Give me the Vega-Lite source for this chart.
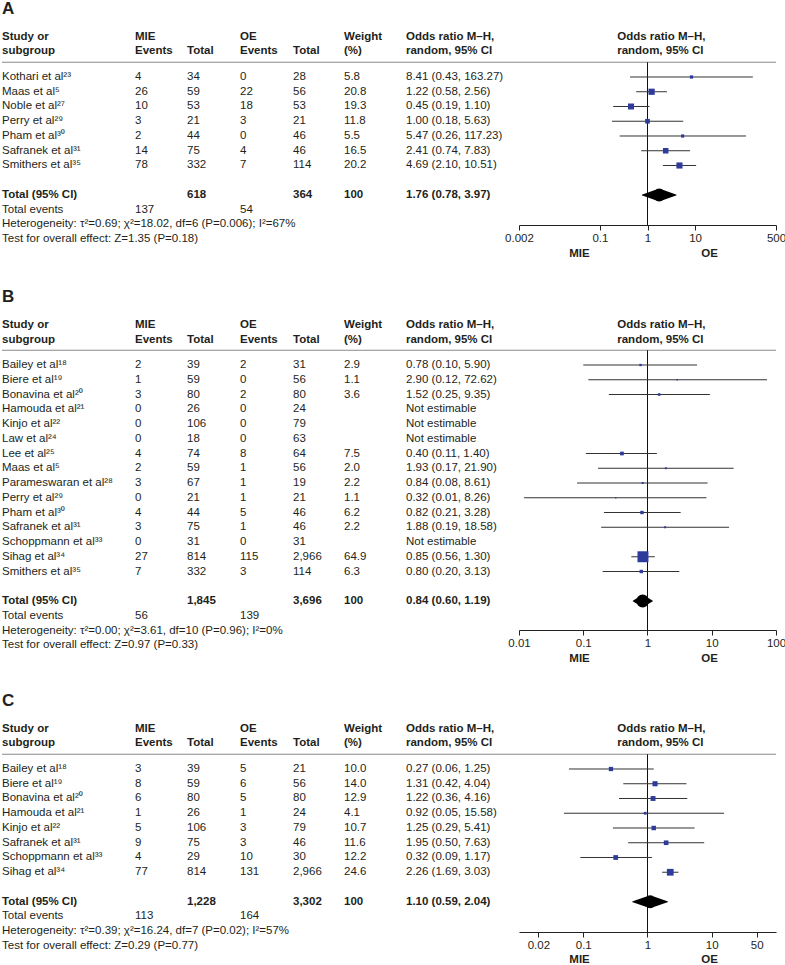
{
"$schema":"https://vega.github.io/schema/vega-lite/v6.json",
"background":"white",
"padding":{"left":1,"top":0,"right":0,"bottom":0},
"autosize":{"type":"pad"},
"config":{"view":{"stroke":null},"axis":{"grid":false},"text":{"font":"Liberation Sans, Noto Sans, DejaVu Sans","fontSize":11.5,"align":"left","baseline":"middle","color":"#231f20"}},
"datasets":{
"hdr":[
{"c":"name","r":-2,"h":"Study or"},{"c":"name","r":-1,"h":"subgroup"},
{"c":"me","r":-2,"h":"MIE"},{"c":"me","r":-1,"h":"Events"},
{"c":"mt","r":-1,"h":"Total"},
{"c":"oe","r":-2,"h":"OE"},{"c":"oe","r":-1,"h":"Events"},
{"c":"ot","r":-1,"h":"Total"},
{"c":"wt","r":-2,"h":"Weight"},{"c":"wt","r":-1,"h":"(%)"},
{"c":"ort","r":-2,"h":"Odds ratio M–H,"},{"c":"ort","r":-1,"h":"random, 95% CI"},
{"c":"plot","r":-2,"h":"Odds ratio M–H,"},{"c":"plot","r":-1,"h":"random, 95% CI"}
],
"rows":[
{"p":"A","r":1,"kind":"study","name":"Kothari et al²³","me":"4","mt":"34","oe":"0","ot":"28","wt":"5.8","w":5.8,"ort":"8.41 (0.43, 163.27)","or":8.41,"lo":0.43,"hi":163.27},
{"p":"A","r":2,"kind":"study","name":"Maas et al⁵","me":"26","mt":"59","oe":"22","ot":"56","wt":"20.8","w":20.8,"ort":"1.22 (0.58, 2.56)","or":1.22,"lo":0.58,"hi":2.56},
{"p":"A","r":3,"kind":"study","name":"Noble et al²⁷","me":"10","mt":"53","oe":"18","ot":"53","wt":"19.3","w":19.3,"ort":"0.45 (0.19, 1.10)","or":0.45,"lo":0.19,"hi":1.10},
{"p":"A","r":4,"kind":"study","name":"Perry et al²⁹","me":"3","mt":"21","oe":"3","ot":"21","wt":"11.8","w":11.8,"ort":"1.00 (0.18, 5.63)","or":1.00,"lo":0.18,"hi":5.63},
{"p":"A","r":5,"kind":"study","name":"Pham et al³⁰","me":"2","mt":"44","oe":"0","ot":"46","wt":"5.5","w":5.5,"ort":"5.47 (0.26, 117.23)","or":5.47,"lo":0.26,"hi":117.23},
{"p":"A","r":6,"kind":"study","name":"Safranek et al³¹","me":"14","mt":"75","oe":"4","ot":"46","wt":"16.5","w":16.5,"ort":"2.41 (0.74, 7.83)","or":2.41,"lo":0.74,"hi":7.83},
{"p":"A","r":7,"kind":"study","name":"Smithers et al³⁵","me":"78","mt":"332","oe":"7","ot":"114","wt":"20.2","w":20.2,"ort":"4.69 (2.10, 10.51)","or":4.69,"lo":2.10,"hi":10.51},
{"p":"A","r":9,"kind":"total","name":"Total (95% CI)","mt":"618","ot":"364","wt":"100","ort":"1.76 (0.78, 3.97)","or":1.76,"lo":0.78,"hi":3.97},
{"p":"A","r":10,"kind":"events","name":"Total events","me":"137","oe":"54"},
{"p":"A","r":11,"kind":"note","name":"Heterogeneity: τ²=0.69; χ²=18.02, df=6 (P=0.006); I²=67%"},
{"p":"A","r":12,"kind":"note","name":"Test for overall effect: Z=1.35 (P=0.18)"},
{"p":"B","r":1,"kind":"study","name":"Bailey et al¹⁸","me":"2","mt":"39","oe":"2","ot":"31","wt":"2.9","w":2.9,"ort":"0.78 (0.10, 5.90)","or":0.78,"lo":0.10,"hi":5.90},
{"p":"B","r":2,"kind":"study","name":"Biere et al¹⁹","me":"1","mt":"59","oe":"0","ot":"56","wt":"1.1","w":1.1,"ort":"2.90 (0.12, 72.62)","or":2.90,"lo":0.12,"hi":72.62},
{"p":"B","r":3,"kind":"study","name":"Bonavina et al²⁰","me":"3","mt":"80","oe":"2","ot":"80","wt":"3.6","w":3.6,"ort":"1.52 (0.25, 9.35)","or":1.52,"lo":0.25,"hi":9.35},
{"p":"B","r":4,"kind":"study","name":"Hamouda et al²¹","me":"0","mt":"26","oe":"0","ot":"24","ort":"Not estimable"},
{"p":"B","r":5,"kind":"study","name":"Kinjo et al²²","me":"0","mt":"106","oe":"0","ot":"79","ort":"Not estimable"},
{"p":"B","r":6,"kind":"study","name":"Law et al²⁴","me":"0","mt":"18","oe":"0","ot":"63","ort":"Not estimable"},
{"p":"B","r":7,"kind":"study","name":"Lee et al²⁵","me":"4","mt":"74","oe":"8","ot":"64","wt":"7.5","w":7.5,"ort":"0.40 (0.11, 1.40)","or":0.40,"lo":0.11,"hi":1.40},
{"p":"B","r":8,"kind":"study","name":"Maas et al⁵","me":"2","mt":"59","oe":"1","ot":"56","wt":"2.0","w":2.0,"ort":"1.93 (0.17, 21.90)","or":1.93,"lo":0.17,"hi":21.90},
{"p":"B","r":9,"kind":"study","name":"Parameswaran et al²⁸","me":"3","mt":"67","oe":"1","ot":"19","wt":"2.2","w":2.2,"ort":"0.84 (0.08, 8.61)","or":0.84,"lo":0.08,"hi":8.61},
{"p":"B","r":10,"kind":"study","name":"Perry et al²⁹","me":"0","mt":"21","oe":"1","ot":"21","wt":"1.1","w":1.1,"ort":"0.32 (0.01, 8.26)","or":0.32,"lo":0.012,"hi":8.26},
{"p":"B","r":11,"kind":"study","name":"Pham et al³⁰","me":"4","mt":"44","oe":"5","ot":"46","wt":"6.2","w":6.2,"ort":"0.82 (0.21, 3.28)","or":0.82,"lo":0.21,"hi":3.28},
{"p":"B","r":12,"kind":"study","name":"Safranek et al³¹","me":"3","mt":"75","oe":"1","ot":"46","wt":"2.2","w":2.2,"ort":"1.88 (0.19, 18.58)","or":1.88,"lo":0.19,"hi":18.58},
{"p":"B","r":13,"kind":"study","name":"Schoppmann et al³³","me":"0","mt":"31","oe":"0","ot":"31","ort":"Not estimable"},
{"p":"B","r":14,"kind":"study","name":"Sihag et al³⁴","me":"27","mt":"814","oe":"115","ot":"2,966","wt":"64.9","w":64.9,"ort":"0.85 (0.56, 1.30)","or":0.85,"lo":0.56,"hi":1.30},
{"p":"B","r":15,"kind":"study","name":"Smithers et al³⁵","me":"7","mt":"332","oe":"3","ot":"114","wt":"6.3","w":6.3,"ort":"0.80 (0.20, 3.13)","or":0.80,"lo":0.20,"hi":3.13},
{"p":"B","r":17,"kind":"total","name":"Total (95% CI)","mt":"1,845","ot":"3,696","wt":"100","ort":"0.84 (0.60, 1.19)","or":0.84,"lo":0.60,"hi":1.19},
{"p":"B","r":18,"kind":"events","name":"Total events","me":"56","oe":"139"},
{"p":"B","r":19,"kind":"note","name":"Heterogeneity: τ²=0.00; χ²=3.61, df=10 (P=0.96); I²=0%"},
{"p":"B","r":20,"kind":"note","name":"Test for overall effect: Z=0.97 (P=0.33)"},
{"p":"C","r":1,"kind":"study","name":"Bailey et al¹⁸","me":"3","mt":"39","oe":"5","ot":"21","wt":"10.0","w":10.0,"ort":"0.27 (0.06, 1.25)","or":0.27,"lo":0.06,"hi":1.25},
{"p":"C","r":2,"kind":"study","name":"Biere et al¹⁹","me":"8","mt":"59","oe":"6","ot":"56","wt":"14.0","w":14.0,"ort":"1.31 (0.42, 4.04)","or":1.31,"lo":0.42,"hi":4.04},
{"p":"C","r":3,"kind":"study","name":"Bonavina et al²⁰","me":"6","mt":"80","oe":"5","ot":"80","wt":"12.9","w":12.9,"ort":"1.22 (0.36, 4.16)","or":1.22,"lo":0.36,"hi":4.16},
{"p":"C","r":4,"kind":"study","name":"Hamouda et al²¹","me":"1","mt":"26","oe":"1","ot":"24","wt":"4.1","w":4.1,"ort":"0.92 (0.05, 15.58)","or":0.92,"lo":0.05,"hi":15.58},
{"p":"C","r":5,"kind":"study","name":"Kinjo et al²²","me":"5","mt":"106","oe":"3","ot":"79","wt":"10.7","w":10.7,"ort":"1.25 (0.29, 5.41)","or":1.25,"lo":0.29,"hi":5.41},
{"p":"C","r":6,"kind":"study","name":"Safranek et al³¹","me":"9","mt":"75","oe":"3","ot":"46","wt":"11.6","w":11.6,"ort":"1.95 (0.50, 7.63)","or":1.95,"lo":0.50,"hi":7.63},
{"p":"C","r":7,"kind":"study","name":"Schoppmann et al³³","me":"4","mt":"29","oe":"10","ot":"30","wt":"12.2","w":12.2,"ort":"0.32 (0.09, 1.17)","or":0.32,"lo":0.09,"hi":1.17},
{"p":"C","r":8,"kind":"study","name":"Sihag et al³⁴","me":"77","mt":"814","oe":"131","ot":"2,966","wt":"24.6","w":24.6,"ort":"2.26 (1.69, 3.03)","or":2.26,"lo":1.69,"hi":3.03},
{"p":"C","r":10,"kind":"total","name":"Total (95% CI)","mt":"1,228","ot":"3,302","wt":"100","ort":"1.10 (0.59, 2.04)","or":1.10,"lo":0.59,"hi":2.04},
{"p":"C","r":11,"kind":"events","name":"Total events","me":"113","oe":"164"},
{"p":"C","r":12,"kind":"note","name":"Heterogeneity: τ²=0.39; χ²=16.24, df=7 (P=0.02); I²=57%"},
{"p":"C","r":13,"kind":"note","name":"Test for overall effect: Z=0.29 (P=0.77)"}
]
},
"spacing":0,
"vconcat":[
{"spacing":0,"bounds":"flush","hconcat":[
{"width":133,"height":288,"layer":[
{"data":{"values":[{"t":"A"}]},"mark":{"type":"text","fontSize":17,"fontWeight":"bold"},"encoding":{"x":{"datum":0,"type":"quantitative","scale":{"domain":[0,1]},"axis":null},"y":{"datum":-3.6,"type":"quantitative","scale":{"domain":[-4.22,15.305],"reverse":true,"nice":false,"zero":false},"axis":null},"text":{"field":"t"}}},
{"data":{"name":"rows"},"transform":[{"filter":"datum.p=='A' && datum.kind!='total' && isValid(datum.name)"}],"mark":"text","encoding":{"x":{"datum":0,"type":"quantitative","scale":{"domain":[0,1]},"axis":null},"y":{"field":"r","type":"quantitative","scale":{"domain":[-4.22,15.305],"reverse":true,"nice":false,"zero":false},"axis":null},"text":{"field":"name"}}},
{"data":{"name":"rows"},"transform":[{"filter":"datum.p=='A' && datum.kind=='total' && isValid(datum.name)"}],"mark":{"type":"text","fontWeight":"bold"},"encoding":{"x":{"datum":0,"type":"quantitative","scale":{"domain":[0,1]},"axis":null},"y":{"field":"r","type":"quantitative","scale":{"domain":[-4.22,15.305],"reverse":true,"nice":false,"zero":false},"axis":null},"text":{"field":"name"}}},
{"data":{"name":"hdr"},"transform":[{"filter":"datum.c=='name'"}],"mark":{"type":"text","fontWeight":"bold","dy":4},"encoding":{"x":{"datum":0,"type":"quantitative","scale":{"domain":[0,1]},"axis":null},"y":{"field":"r","type":"quantitative","scale":{"domain":[-4.22,15.305],"reverse":true,"nice":false,"zero":false},"axis":null},"text":{"field":"h"}}},
{"data":{"values":[{}]},"mark":{"type":"rule","color":"#8a8a8a"},"encoding":{"y":{"datum":0,"type":"quantitative"}}}
]},
{"width":52,"height":288,"layer":[
{"data":{"name":"rows"},"transform":[{"filter":"datum.p=='A' && isValid(datum.me)"}],"mark":"text","encoding":{"x":{"datum":0,"type":"quantitative","scale":{"domain":[0,1]},"axis":null},"y":{"field":"r","type":"quantitative","scale":{"domain":[-4.22,15.305],"reverse":true,"nice":false,"zero":false},"axis":null},"text":{"field":"me"}}},
{"data":{"name":"hdr"},"transform":[{"filter":"datum.c=='me'"}],"mark":{"type":"text","fontWeight":"bold","dy":4},"encoding":{"x":{"datum":0,"type":"quantitative","scale":{"domain":[0,1]},"axis":null},"y":{"field":"r","type":"quantitative","scale":{"domain":[-4.22,15.305],"reverse":true,"nice":false,"zero":false},"axis":null},"text":{"field":"h"}}},
{"data":{"values":[{}]},"mark":{"type":"rule","color":"#8a8a8a"},"encoding":{"y":{"datum":0,"type":"quantitative"}}}
]},
{"width":53,"height":288,"layer":[
{"data":{"name":"rows"},"transform":[{"filter":"datum.p=='A' && datum.kind!='total' && isValid(datum.mt)"}],"mark":"text","encoding":{"x":{"datum":0,"type":"quantitative","scale":{"domain":[0,1]},"axis":null},"y":{"field":"r","type":"quantitative","scale":{"domain":[-4.22,15.305],"reverse":true,"nice":false,"zero":false},"axis":null},"text":{"field":"mt"}}},
{"data":{"name":"rows"},"transform":[{"filter":"datum.p=='A' && datum.kind=='total' && isValid(datum.mt)"}],"mark":{"type":"text","fontWeight":"bold"},"encoding":{"x":{"datum":0,"type":"quantitative","scale":{"domain":[0,1]},"axis":null},"y":{"field":"r","type":"quantitative","scale":{"domain":[-4.22,15.305],"reverse":true,"nice":false,"zero":false},"axis":null},"text":{"field":"mt"}}},
{"data":{"name":"hdr"},"transform":[{"filter":"datum.c=='mt'"}],"mark":{"type":"text","fontWeight":"bold","dy":4},"encoding":{"x":{"datum":0,"type":"quantitative","scale":{"domain":[0,1]},"axis":null},"y":{"field":"r","type":"quantitative","scale":{"domain":[-4.22,15.305],"reverse":true,"nice":false,"zero":false},"axis":null},"text":{"field":"h"}}},
{"data":{"values":[{}]},"mark":{"type":"rule","color":"#8a8a8a"},"encoding":{"y":{"datum":0,"type":"quantitative"}}}
]},
{"width":53,"height":288,"layer":[
{"data":{"name":"rows"},"transform":[{"filter":"datum.p=='A' && isValid(datum.oe)"}],"mark":"text","encoding":{"x":{"datum":0,"type":"quantitative","scale":{"domain":[0,1]},"axis":null},"y":{"field":"r","type":"quantitative","scale":{"domain":[-4.22,15.305],"reverse":true,"nice":false,"zero":false},"axis":null},"text":{"field":"oe"}}},
{"data":{"name":"hdr"},"transform":[{"filter":"datum.c=='oe'"}],"mark":{"type":"text","fontWeight":"bold","dy":4},"encoding":{"x":{"datum":0,"type":"quantitative","scale":{"domain":[0,1]},"axis":null},"y":{"field":"r","type":"quantitative","scale":{"domain":[-4.22,15.305],"reverse":true,"nice":false,"zero":false},"axis":null},"text":{"field":"h"}}},
{"data":{"values":[{}]},"mark":{"type":"rule","color":"#8a8a8a"},"encoding":{"y":{"datum":0,"type":"quantitative"}}}
]},
{"width":51,"height":288,"layer":[
{"data":{"name":"rows"},"transform":[{"filter":"datum.p=='A' && datum.kind!='total' && isValid(datum.ot)"}],"mark":"text","encoding":{"x":{"datum":0,"type":"quantitative","scale":{"domain":[0,1]},"axis":null},"y":{"field":"r","type":"quantitative","scale":{"domain":[-4.22,15.305],"reverse":true,"nice":false,"zero":false},"axis":null},"text":{"field":"ot"}}},
{"data":{"name":"rows"},"transform":[{"filter":"datum.p=='A' && datum.kind=='total' && isValid(datum.ot)"}],"mark":{"type":"text","fontWeight":"bold"},"encoding":{"x":{"datum":0,"type":"quantitative","scale":{"domain":[0,1]},"axis":null},"y":{"field":"r","type":"quantitative","scale":{"domain":[-4.22,15.305],"reverse":true,"nice":false,"zero":false},"axis":null},"text":{"field":"ot"}}},
{"data":{"name":"hdr"},"transform":[{"filter":"datum.c=='ot'"}],"mark":{"type":"text","fontWeight":"bold","dy":4},"encoding":{"x":{"datum":0,"type":"quantitative","scale":{"domain":[0,1]},"axis":null},"y":{"field":"r","type":"quantitative","scale":{"domain":[-4.22,15.305],"reverse":true,"nice":false,"zero":false},"axis":null},"text":{"field":"h"}}},
{"data":{"values":[{}]},"mark":{"type":"rule","color":"#8a8a8a"},"encoding":{"y":{"datum":0,"type":"quantitative"}}}
]},
{"width":62,"height":288,"layer":[
{"data":{"name":"rows"},"transform":[{"filter":"datum.p=='A' && datum.kind!='total' && isValid(datum.wt)"}],"mark":"text","encoding":{"x":{"datum":0,"type":"quantitative","scale":{"domain":[0,1]},"axis":null},"y":{"field":"r","type":"quantitative","scale":{"domain":[-4.22,15.305],"reverse":true,"nice":false,"zero":false},"axis":null},"text":{"field":"wt"}}},
{"data":{"name":"rows"},"transform":[{"filter":"datum.p=='A' && datum.kind=='total' && isValid(datum.wt)"}],"mark":{"type":"text","fontWeight":"bold"},"encoding":{"x":{"datum":0,"type":"quantitative","scale":{"domain":[0,1]},"axis":null},"y":{"field":"r","type":"quantitative","scale":{"domain":[-4.22,15.305],"reverse":true,"nice":false,"zero":false},"axis":null},"text":{"field":"wt"}}},
{"data":{"name":"hdr"},"transform":[{"filter":"datum.c=='wt'"}],"mark":{"type":"text","fontWeight":"bold","dy":4},"encoding":{"x":{"datum":0,"type":"quantitative","scale":{"domain":[0,1]},"axis":null},"y":{"field":"r","type":"quantitative","scale":{"domain":[-4.22,15.305],"reverse":true,"nice":false,"zero":false},"axis":null},"text":{"field":"h"}}},
{"data":{"values":[{}]},"mark":{"type":"rule","color":"#8a8a8a"},"encoding":{"y":{"datum":0,"type":"quantitative"}}}
]},
{"width":113,"height":288,"layer":[
{"data":{"name":"rows"},"transform":[{"filter":"datum.p=='A' && datum.kind!='total' && isValid(datum.ort)"}],"mark":"text","encoding":{"x":{"datum":0,"type":"quantitative","scale":{"domain":[0,1]},"axis":null},"y":{"field":"r","type":"quantitative","scale":{"domain":[-4.22,15.305],"reverse":true,"nice":false,"zero":false},"axis":null},"text":{"field":"ort"}}},
{"data":{"name":"rows"},"transform":[{"filter":"datum.p=='A' && datum.kind=='total' && isValid(datum.ort)"}],"mark":{"type":"text","fontWeight":"bold"},"encoding":{"x":{"datum":0,"type":"quantitative","scale":{"domain":[0,1]},"axis":null},"y":{"field":"r","type":"quantitative","scale":{"domain":[-4.22,15.305],"reverse":true,"nice":false,"zero":false},"axis":null},"text":{"field":"ort"}}},
{"data":{"name":"hdr"},"transform":[{"filter":"datum.c=='ort'"}],"mark":{"type":"text","fontWeight":"bold","dy":4},"encoding":{"x":{"datum":0,"type":"quantitative","scale":{"domain":[0,1]},"axis":null},"y":{"field":"r","type":"quantitative","scale":{"domain":[-4.22,15.305],"reverse":true,"nice":false,"zero":false},"axis":null},"text":{"field":"h"}}},
{"data":{"values":[{}]},"mark":{"type":"rule","color":"#8a8a8a"},"encoding":{"y":{"datum":0,"type":"quantitative"}}}
]},
{"width":257,"height":225,"resolve":{"scale":{"size":"independent"}},"layer":[
{"data":{"values":[{}]},"mark":{"type":"rule","color":"#8a8a8a"},"encoding":{"y":{"datum":0,"type":"quantitative","scale":{"domain":[-4.22,11.034],"reverse":true,"nice":false,"zero":false},"axis":null}}},
{"data":{"values":[{}]},"mark":{"type":"rule","color":"#111111"},"encoding":{"x":{"datum":1,"type":"quantitative","scale":{"type":"log","domain":[0.002,500],"nice":false},"axis":{"title":null,"values":[0.002,0.1,1,10,500],"labelExpr":"'' + datum.value","labelFlush":false,"domainColor":"#222222","tickColor":"#222222","labelColor":"#231f20","labelFont":"Liberation Sans","labelFontSize":11.5,"tickSize":5,"labelPadding":2}},"y":{"datum":0,"type":"quantitative","axis":null},"y2":{"datum":11.034}}},
{"data":{"name":"rows"},"transform":[{"filter":"datum.p=='A' && datum.kind=='study' && isValid(datum.or)"}],"mark":{"type":"rule","color":"#333333"},"encoding":{"x":{"field":"lo","type":"quantitative","title":null},"x2":{"field":"hi"},"y":{"field":"r","type":"quantitative","axis":null}}},
{"data":{"name":"rows"},"transform":[{"filter":"datum.p=='A' && datum.kind=='study' && isValid(datum.or)"}],"mark":{"type":"square","filled":true,"color":"#2e3b9b","opacity":1},"encoding":{"x":{"field":"or","type":"quantitative","title":null},"y":{"field":"r","type":"quantitative","axis":null},"size":{"field":"w","type":"quantitative","scale":{"domain":[0,100],"range":[0,185]},"legend":null}}},
{"data":{"name":"rows"},"transform":[{"filter":"datum.p=='A' && datum.kind=='total'"},{"fold":["lo","or","hi"],"as":["k","v"]}],"mark":{"type":"trail","color":"#000000"},"encoding":{"x":{"field":"v","type":"quantitative","title":null},"y":{"field":"r","type":"quantitative","axis":null},"size":{"field":"k","type":"nominal","scale":{"type":"ordinal","domain":["lo","or","hi"],"range":[0,13,0]},"legend":null},"order":{"field":"v","type":"quantitative"}}},
{"data":{"name":"hdr"},"transform":[{"filter":"datum.c=='plot'"}],"mark":{"type":"text","fontWeight":"bold","dy":4},"encoding":{"x":{"datum":0.231,"type":"quantitative"},"y":{"field":"r","type":"quantitative","axis":null},"text":{"field":"h"}}},
{"data":{"values":[{"t":"MIE"}]},"mark":{"type":"text","fontWeight":"bold","align":"center"},"encoding":{"x":{"datum":0.0373,"type":"quantitative"},"y":{"datum":12.98,"type":"quantitative"},"text":{"field":"t"}}},
{"data":{"values":[{"t":"OE"}]},"mark":{"type":"text","fontWeight":"bold","align":"center"},"encoding":{"x":{"datum":20.1,"type":"quantitative"},"y":{"datum":12.98,"type":"quantitative"},"text":{"field":"t"}}}
]}
]},
{"spacing":0,"bounds":"flush","hconcat":[
{"width":133,"height":402,"layer":[
{"data":{"values":[{"t":"B"}]},"mark":{"type":"text","fontSize":17,"fontWeight":"bold"},"encoding":{"x":{"datum":0,"type":"quantitative","scale":{"domain":[0,1]},"axis":null},"y":{"datum":-3.6,"type":"quantitative","scale":{"domain":[-4.085,23.169],"reverse":true,"nice":false,"zero":false},"axis":null},"text":{"field":"t"}}},
{"data":{"name":"rows"},"transform":[{"filter":"datum.p=='B' && datum.kind!='total' && isValid(datum.name)"}],"mark":"text","encoding":{"x":{"datum":0,"type":"quantitative","scale":{"domain":[0,1]},"axis":null},"y":{"field":"r","type":"quantitative","scale":{"domain":[-4.085,23.169],"reverse":true,"nice":false,"zero":false},"axis":null},"text":{"field":"name"}}},
{"data":{"name":"rows"},"transform":[{"filter":"datum.p=='B' && datum.kind=='total' && isValid(datum.name)"}],"mark":{"type":"text","fontWeight":"bold"},"encoding":{"x":{"datum":0,"type":"quantitative","scale":{"domain":[0,1]},"axis":null},"y":{"field":"r","type":"quantitative","scale":{"domain":[-4.085,23.169],"reverse":true,"nice":false,"zero":false},"axis":null},"text":{"field":"name"}}},
{"data":{"name":"hdr"},"transform":[{"filter":"datum.c=='name'"}],"mark":{"type":"text","fontWeight":"bold","dy":4},"encoding":{"x":{"datum":0,"type":"quantitative","scale":{"domain":[0,1]},"axis":null},"y":{"field":"r","type":"quantitative","scale":{"domain":[-4.085,23.169],"reverse":true,"nice":false,"zero":false},"axis":null},"text":{"field":"h"}}},
{"data":{"values":[{}]},"mark":{"type":"rule","color":"#8a8a8a"},"encoding":{"y":{"datum":0,"type":"quantitative"}}}
]},
{"width":52,"height":402,"layer":[
{"data":{"name":"rows"},"transform":[{"filter":"datum.p=='B' && isValid(datum.me)"}],"mark":"text","encoding":{"x":{"datum":0,"type":"quantitative","scale":{"domain":[0,1]},"axis":null},"y":{"field":"r","type":"quantitative","scale":{"domain":[-4.085,23.169],"reverse":true,"nice":false,"zero":false},"axis":null},"text":{"field":"me"}}},
{"data":{"name":"hdr"},"transform":[{"filter":"datum.c=='me'"}],"mark":{"type":"text","fontWeight":"bold","dy":4},"encoding":{"x":{"datum":0,"type":"quantitative","scale":{"domain":[0,1]},"axis":null},"y":{"field":"r","type":"quantitative","scale":{"domain":[-4.085,23.169],"reverse":true,"nice":false,"zero":false},"axis":null},"text":{"field":"h"}}},
{"data":{"values":[{}]},"mark":{"type":"rule","color":"#8a8a8a"},"encoding":{"y":{"datum":0,"type":"quantitative"}}}
]},
{"width":53,"height":402,"layer":[
{"data":{"name":"rows"},"transform":[{"filter":"datum.p=='B' && datum.kind!='total' && isValid(datum.mt)"}],"mark":"text","encoding":{"x":{"datum":0,"type":"quantitative","scale":{"domain":[0,1]},"axis":null},"y":{"field":"r","type":"quantitative","scale":{"domain":[-4.085,23.169],"reverse":true,"nice":false,"zero":false},"axis":null},"text":{"field":"mt"}}},
{"data":{"name":"rows"},"transform":[{"filter":"datum.p=='B' && datum.kind=='total' && isValid(datum.mt)"}],"mark":{"type":"text","fontWeight":"bold"},"encoding":{"x":{"datum":0,"type":"quantitative","scale":{"domain":[0,1]},"axis":null},"y":{"field":"r","type":"quantitative","scale":{"domain":[-4.085,23.169],"reverse":true,"nice":false,"zero":false},"axis":null},"text":{"field":"mt"}}},
{"data":{"name":"hdr"},"transform":[{"filter":"datum.c=='mt'"}],"mark":{"type":"text","fontWeight":"bold","dy":4},"encoding":{"x":{"datum":0,"type":"quantitative","scale":{"domain":[0,1]},"axis":null},"y":{"field":"r","type":"quantitative","scale":{"domain":[-4.085,23.169],"reverse":true,"nice":false,"zero":false},"axis":null},"text":{"field":"h"}}},
{"data":{"values":[{}]},"mark":{"type":"rule","color":"#8a8a8a"},"encoding":{"y":{"datum":0,"type":"quantitative"}}}
]},
{"width":53,"height":402,"layer":[
{"data":{"name":"rows"},"transform":[{"filter":"datum.p=='B' && isValid(datum.oe)"}],"mark":"text","encoding":{"x":{"datum":0,"type":"quantitative","scale":{"domain":[0,1]},"axis":null},"y":{"field":"r","type":"quantitative","scale":{"domain":[-4.085,23.169],"reverse":true,"nice":false,"zero":false},"axis":null},"text":{"field":"oe"}}},
{"data":{"name":"hdr"},"transform":[{"filter":"datum.c=='oe'"}],"mark":{"type":"text","fontWeight":"bold","dy":4},"encoding":{"x":{"datum":0,"type":"quantitative","scale":{"domain":[0,1]},"axis":null},"y":{"field":"r","type":"quantitative","scale":{"domain":[-4.085,23.169],"reverse":true,"nice":false,"zero":false},"axis":null},"text":{"field":"h"}}},
{"data":{"values":[{}]},"mark":{"type":"rule","color":"#8a8a8a"},"encoding":{"y":{"datum":0,"type":"quantitative"}}}
]},
{"width":51,"height":402,"layer":[
{"data":{"name":"rows"},"transform":[{"filter":"datum.p=='B' && datum.kind!='total' && isValid(datum.ot)"}],"mark":"text","encoding":{"x":{"datum":0,"type":"quantitative","scale":{"domain":[0,1]},"axis":null},"y":{"field":"r","type":"quantitative","scale":{"domain":[-4.085,23.169],"reverse":true,"nice":false,"zero":false},"axis":null},"text":{"field":"ot"}}},
{"data":{"name":"rows"},"transform":[{"filter":"datum.p=='B' && datum.kind=='total' && isValid(datum.ot)"}],"mark":{"type":"text","fontWeight":"bold"},"encoding":{"x":{"datum":0,"type":"quantitative","scale":{"domain":[0,1]},"axis":null},"y":{"field":"r","type":"quantitative","scale":{"domain":[-4.085,23.169],"reverse":true,"nice":false,"zero":false},"axis":null},"text":{"field":"ot"}}},
{"data":{"name":"hdr"},"transform":[{"filter":"datum.c=='ot'"}],"mark":{"type":"text","fontWeight":"bold","dy":4},"encoding":{"x":{"datum":0,"type":"quantitative","scale":{"domain":[0,1]},"axis":null},"y":{"field":"r","type":"quantitative","scale":{"domain":[-4.085,23.169],"reverse":true,"nice":false,"zero":false},"axis":null},"text":{"field":"h"}}},
{"data":{"values":[{}]},"mark":{"type":"rule","color":"#8a8a8a"},"encoding":{"y":{"datum":0,"type":"quantitative"}}}
]},
{"width":62,"height":402,"layer":[
{"data":{"name":"rows"},"transform":[{"filter":"datum.p=='B' && datum.kind!='total' && isValid(datum.wt)"}],"mark":"text","encoding":{"x":{"datum":0,"type":"quantitative","scale":{"domain":[0,1]},"axis":null},"y":{"field":"r","type":"quantitative","scale":{"domain":[-4.085,23.169],"reverse":true,"nice":false,"zero":false},"axis":null},"text":{"field":"wt"}}},
{"data":{"name":"rows"},"transform":[{"filter":"datum.p=='B' && datum.kind=='total' && isValid(datum.wt)"}],"mark":{"type":"text","fontWeight":"bold"},"encoding":{"x":{"datum":0,"type":"quantitative","scale":{"domain":[0,1]},"axis":null},"y":{"field":"r","type":"quantitative","scale":{"domain":[-4.085,23.169],"reverse":true,"nice":false,"zero":false},"axis":null},"text":{"field":"wt"}}},
{"data":{"name":"hdr"},"transform":[{"filter":"datum.c=='wt'"}],"mark":{"type":"text","fontWeight":"bold","dy":4},"encoding":{"x":{"datum":0,"type":"quantitative","scale":{"domain":[0,1]},"axis":null},"y":{"field":"r","type":"quantitative","scale":{"domain":[-4.085,23.169],"reverse":true,"nice":false,"zero":false},"axis":null},"text":{"field":"h"}}},
{"data":{"values":[{}]},"mark":{"type":"rule","color":"#8a8a8a"},"encoding":{"y":{"datum":0,"type":"quantitative"}}}
]},
{"width":113,"height":402,"layer":[
{"data":{"name":"rows"},"transform":[{"filter":"datum.p=='B' && datum.kind!='total' && isValid(datum.ort)"}],"mark":"text","encoding":{"x":{"datum":0,"type":"quantitative","scale":{"domain":[0,1]},"axis":null},"y":{"field":"r","type":"quantitative","scale":{"domain":[-4.085,23.169],"reverse":true,"nice":false,"zero":false},"axis":null},"text":{"field":"ort"}}},
{"data":{"name":"rows"},"transform":[{"filter":"datum.p=='B' && datum.kind=='total' && isValid(datum.ort)"}],"mark":{"type":"text","fontWeight":"bold"},"encoding":{"x":{"datum":0,"type":"quantitative","scale":{"domain":[0,1]},"axis":null},"y":{"field":"r","type":"quantitative","scale":{"domain":[-4.085,23.169],"reverse":true,"nice":false,"zero":false},"axis":null},"text":{"field":"ort"}}},
{"data":{"name":"hdr"},"transform":[{"filter":"datum.c=='ort'"}],"mark":{"type":"text","fontWeight":"bold","dy":4},"encoding":{"x":{"datum":0,"type":"quantitative","scale":{"domain":[0,1]},"axis":null},"y":{"field":"r","type":"quantitative","scale":{"domain":[-4.085,23.169],"reverse":true,"nice":false,"zero":false},"axis":null},"text":{"field":"h"}}},
{"data":{"values":[{}]},"mark":{"type":"rule","color":"#8a8a8a"},"encoding":{"y":{"datum":0,"type":"quantitative"}}}
]},
{"width":257,"height":340,"resolve":{"scale":{"size":"independent"}},"layer":[
{"data":{"values":[{}]},"mark":{"type":"rule","color":"#8a8a8a"},"encoding":{"y":{"datum":0,"type":"quantitative","scale":{"domain":[-4.085,18.966],"reverse":true,"nice":false,"zero":false},"axis":null}}},
{"data":{"values":[{}]},"mark":{"type":"rule","color":"#111111"},"encoding":{"x":{"datum":1,"type":"quantitative","scale":{"type":"log","domain":[0.01,100],"nice":false},"axis":{"title":null,"values":[0.01,0.1,1,10,100],"labelExpr":"'' + datum.value","labelFlush":false,"domainColor":"#222222","tickColor":"#222222","labelColor":"#231f20","labelFont":"Liberation Sans","labelFontSize":11.5,"tickSize":5,"labelPadding":2}},"y":{"datum":0,"type":"quantitative","axis":null},"y2":{"datum":18.966}}},
{"data":{"name":"rows"},"transform":[{"filter":"datum.p=='B' && datum.kind=='study' && isValid(datum.or)"}],"mark":{"type":"rule","color":"#333333"},"encoding":{"x":{"field":"lo","type":"quantitative","title":null},"x2":{"field":"hi"},"y":{"field":"r","type":"quantitative","axis":null}}},
{"data":{"name":"rows"},"transform":[{"filter":"datum.p=='B' && datum.kind=='study' && isValid(datum.or)"}],"mark":{"type":"square","filled":true,"color":"#2e3b9b","opacity":1},"encoding":{"x":{"field":"or","type":"quantitative","title":null},"y":{"field":"r","type":"quantitative","axis":null},"size":{"field":"w","type":"quantitative","scale":{"domain":[0,100],"range":[0,185]},"legend":null}}},
{"data":{"name":"rows"},"transform":[{"filter":"datum.p=='B' && datum.kind=='total'"},{"fold":["lo","or","hi"],"as":["k","v"]}],"mark":{"type":"trail","color":"#000000"},"encoding":{"x":{"field":"v","type":"quantitative","title":null},"y":{"field":"r","type":"quantitative","axis":null},"size":{"field":"k","type":"nominal","scale":{"type":"ordinal","domain":["lo","or","hi"],"range":[0,13,0]},"legend":null},"order":{"field":"v","type":"quantitative"}}},
{"data":{"name":"hdr"},"transform":[{"filter":"datum.c=='plot'"}],"mark":{"type":"text","fontWeight":"bold","dy":4},"encoding":{"x":{"datum":0.338,"type":"quantitative"},"y":{"field":"r","type":"quantitative","axis":null},"text":{"field":"h"}}},
{"data":{"values":[{"t":"MIE"}]},"mark":{"type":"text","fontWeight":"bold","align":"center"},"encoding":{"x":{"datum":0.0875,"type":"quantitative"},"y":{"datum":20.93,"type":"quantitative"},"text":{"field":"t"}}},
{"data":{"values":[{"t":"OE"}]},"mark":{"type":"text","fontWeight":"bold","align":"center"},"encoding":{"x":{"datum":9.23,"type":"quantitative"},"y":{"datum":20.93,"type":"quantitative"},"text":{"field":"t"}}}
]}
]},
{"spacing":0,"bounds":"flush","hconcat":[
{"width":133,"height":275,"layer":[
{"data":{"values":[{"t":"C"}]},"mark":{"type":"text","fontSize":17,"fontWeight":"bold"},"encoding":{"x":{"datum":0,"type":"quantitative","scale":{"domain":[0,1]},"axis":null},"y":{"datum":-3.6,"type":"quantitative","scale":{"domain":[-4.22,14.424],"reverse":true,"nice":false,"zero":false},"axis":null},"text":{"field":"t"}}},
{"data":{"name":"rows"},"transform":[{"filter":"datum.p=='C' && datum.kind!='total' && isValid(datum.name)"}],"mark":"text","encoding":{"x":{"datum":0,"type":"quantitative","scale":{"domain":[0,1]},"axis":null},"y":{"field":"r","type":"quantitative","scale":{"domain":[-4.22,14.424],"reverse":true,"nice":false,"zero":false},"axis":null},"text":{"field":"name"}}},
{"data":{"name":"rows"},"transform":[{"filter":"datum.p=='C' && datum.kind=='total' && isValid(datum.name)"}],"mark":{"type":"text","fontWeight":"bold"},"encoding":{"x":{"datum":0,"type":"quantitative","scale":{"domain":[0,1]},"axis":null},"y":{"field":"r","type":"quantitative","scale":{"domain":[-4.22,14.424],"reverse":true,"nice":false,"zero":false},"axis":null},"text":{"field":"name"}}},
{"data":{"name":"hdr"},"transform":[{"filter":"datum.c=='name'"}],"mark":{"type":"text","fontWeight":"bold","dy":4},"encoding":{"x":{"datum":0,"type":"quantitative","scale":{"domain":[0,1]},"axis":null},"y":{"field":"r","type":"quantitative","scale":{"domain":[-4.22,14.424],"reverse":true,"nice":false,"zero":false},"axis":null},"text":{"field":"h"}}},
{"data":{"values":[{}]},"mark":{"type":"rule","color":"#8a8a8a"},"encoding":{"y":{"datum":0,"type":"quantitative"}}}
]},
{"width":52,"height":275,"layer":[
{"data":{"name":"rows"},"transform":[{"filter":"datum.p=='C' && isValid(datum.me)"}],"mark":"text","encoding":{"x":{"datum":0,"type":"quantitative","scale":{"domain":[0,1]},"axis":null},"y":{"field":"r","type":"quantitative","scale":{"domain":[-4.22,14.424],"reverse":true,"nice":false,"zero":false},"axis":null},"text":{"field":"me"}}},
{"data":{"name":"hdr"},"transform":[{"filter":"datum.c=='me'"}],"mark":{"type":"text","fontWeight":"bold","dy":4},"encoding":{"x":{"datum":0,"type":"quantitative","scale":{"domain":[0,1]},"axis":null},"y":{"field":"r","type":"quantitative","scale":{"domain":[-4.22,14.424],"reverse":true,"nice":false,"zero":false},"axis":null},"text":{"field":"h"}}},
{"data":{"values":[{}]},"mark":{"type":"rule","color":"#8a8a8a"},"encoding":{"y":{"datum":0,"type":"quantitative"}}}
]},
{"width":53,"height":275,"layer":[
{"data":{"name":"rows"},"transform":[{"filter":"datum.p=='C' && datum.kind!='total' && isValid(datum.mt)"}],"mark":"text","encoding":{"x":{"datum":0,"type":"quantitative","scale":{"domain":[0,1]},"axis":null},"y":{"field":"r","type":"quantitative","scale":{"domain":[-4.22,14.424],"reverse":true,"nice":false,"zero":false},"axis":null},"text":{"field":"mt"}}},
{"data":{"name":"rows"},"transform":[{"filter":"datum.p=='C' && datum.kind=='total' && isValid(datum.mt)"}],"mark":{"type":"text","fontWeight":"bold"},"encoding":{"x":{"datum":0,"type":"quantitative","scale":{"domain":[0,1]},"axis":null},"y":{"field":"r","type":"quantitative","scale":{"domain":[-4.22,14.424],"reverse":true,"nice":false,"zero":false},"axis":null},"text":{"field":"mt"}}},
{"data":{"name":"hdr"},"transform":[{"filter":"datum.c=='mt'"}],"mark":{"type":"text","fontWeight":"bold","dy":4},"encoding":{"x":{"datum":0,"type":"quantitative","scale":{"domain":[0,1]},"axis":null},"y":{"field":"r","type":"quantitative","scale":{"domain":[-4.22,14.424],"reverse":true,"nice":false,"zero":false},"axis":null},"text":{"field":"h"}}},
{"data":{"values":[{}]},"mark":{"type":"rule","color":"#8a8a8a"},"encoding":{"y":{"datum":0,"type":"quantitative"}}}
]},
{"width":53,"height":275,"layer":[
{"data":{"name":"rows"},"transform":[{"filter":"datum.p=='C' && isValid(datum.oe)"}],"mark":"text","encoding":{"x":{"datum":0,"type":"quantitative","scale":{"domain":[0,1]},"axis":null},"y":{"field":"r","type":"quantitative","scale":{"domain":[-4.22,14.424],"reverse":true,"nice":false,"zero":false},"axis":null},"text":{"field":"oe"}}},
{"data":{"name":"hdr"},"transform":[{"filter":"datum.c=='oe'"}],"mark":{"type":"text","fontWeight":"bold","dy":4},"encoding":{"x":{"datum":0,"type":"quantitative","scale":{"domain":[0,1]},"axis":null},"y":{"field":"r","type":"quantitative","scale":{"domain":[-4.22,14.424],"reverse":true,"nice":false,"zero":false},"axis":null},"text":{"field":"h"}}},
{"data":{"values":[{}]},"mark":{"type":"rule","color":"#8a8a8a"},"encoding":{"y":{"datum":0,"type":"quantitative"}}}
]},
{"width":51,"height":275,"layer":[
{"data":{"name":"rows"},"transform":[{"filter":"datum.p=='C' && datum.kind!='total' && isValid(datum.ot)"}],"mark":"text","encoding":{"x":{"datum":0,"type":"quantitative","scale":{"domain":[0,1]},"axis":null},"y":{"field":"r","type":"quantitative","scale":{"domain":[-4.22,14.424],"reverse":true,"nice":false,"zero":false},"axis":null},"text":{"field":"ot"}}},
{"data":{"name":"rows"},"transform":[{"filter":"datum.p=='C' && datum.kind=='total' && isValid(datum.ot)"}],"mark":{"type":"text","fontWeight":"bold"},"encoding":{"x":{"datum":0,"type":"quantitative","scale":{"domain":[0,1]},"axis":null},"y":{"field":"r","type":"quantitative","scale":{"domain":[-4.22,14.424],"reverse":true,"nice":false,"zero":false},"axis":null},"text":{"field":"ot"}}},
{"data":{"name":"hdr"},"transform":[{"filter":"datum.c=='ot'"}],"mark":{"type":"text","fontWeight":"bold","dy":4},"encoding":{"x":{"datum":0,"type":"quantitative","scale":{"domain":[0,1]},"axis":null},"y":{"field":"r","type":"quantitative","scale":{"domain":[-4.22,14.424],"reverse":true,"nice":false,"zero":false},"axis":null},"text":{"field":"h"}}},
{"data":{"values":[{}]},"mark":{"type":"rule","color":"#8a8a8a"},"encoding":{"y":{"datum":0,"type":"quantitative"}}}
]},
{"width":62,"height":275,"layer":[
{"data":{"name":"rows"},"transform":[{"filter":"datum.p=='C' && datum.kind!='total' && isValid(datum.wt)"}],"mark":"text","encoding":{"x":{"datum":0,"type":"quantitative","scale":{"domain":[0,1]},"axis":null},"y":{"field":"r","type":"quantitative","scale":{"domain":[-4.22,14.424],"reverse":true,"nice":false,"zero":false},"axis":null},"text":{"field":"wt"}}},
{"data":{"name":"rows"},"transform":[{"filter":"datum.p=='C' && datum.kind=='total' && isValid(datum.wt)"}],"mark":{"type":"text","fontWeight":"bold"},"encoding":{"x":{"datum":0,"type":"quantitative","scale":{"domain":[0,1]},"axis":null},"y":{"field":"r","type":"quantitative","scale":{"domain":[-4.22,14.424],"reverse":true,"nice":false,"zero":false},"axis":null},"text":{"field":"wt"}}},
{"data":{"name":"hdr"},"transform":[{"filter":"datum.c=='wt'"}],"mark":{"type":"text","fontWeight":"bold","dy":4},"encoding":{"x":{"datum":0,"type":"quantitative","scale":{"domain":[0,1]},"axis":null},"y":{"field":"r","type":"quantitative","scale":{"domain":[-4.22,14.424],"reverse":true,"nice":false,"zero":false},"axis":null},"text":{"field":"h"}}},
{"data":{"values":[{}]},"mark":{"type":"rule","color":"#8a8a8a"},"encoding":{"y":{"datum":0,"type":"quantitative"}}}
]},
{"width":113,"height":275,"layer":[
{"data":{"name":"rows"},"transform":[{"filter":"datum.p=='C' && datum.kind!='total' && isValid(datum.ort)"}],"mark":"text","encoding":{"x":{"datum":0,"type":"quantitative","scale":{"domain":[0,1]},"axis":null},"y":{"field":"r","type":"quantitative","scale":{"domain":[-4.22,14.424],"reverse":true,"nice":false,"zero":false},"axis":null},"text":{"field":"ort"}}},
{"data":{"name":"rows"},"transform":[{"filter":"datum.p=='C' && datum.kind=='total' && isValid(datum.ort)"}],"mark":{"type":"text","fontWeight":"bold"},"encoding":{"x":{"datum":0,"type":"quantitative","scale":{"domain":[0,1]},"axis":null},"y":{"field":"r","type":"quantitative","scale":{"domain":[-4.22,14.424],"reverse":true,"nice":false,"zero":false},"axis":null},"text":{"field":"ort"}}},
{"data":{"name":"hdr"},"transform":[{"filter":"datum.c=='ort'"}],"mark":{"type":"text","fontWeight":"bold","dy":4},"encoding":{"x":{"datum":0,"type":"quantitative","scale":{"domain":[0,1]},"axis":null},"y":{"field":"r","type":"quantitative","scale":{"domain":[-4.22,14.424],"reverse":true,"nice":false,"zero":false},"axis":null},"text":{"field":"h"}}},
{"data":{"values":[{}]},"mark":{"type":"rule","color":"#8a8a8a"},"encoding":{"y":{"datum":0,"type":"quantitative"}}}
]},
{"width":257,"height":240,"resolve":{"scale":{"size":"independent"}},"layer":[
{"data":{"values":[{}]},"mark":{"type":"rule","color":"#8a8a8a"},"encoding":{"y":{"datum":0,"type":"quantitative","scale":{"domain":[-4.22,12.051],"reverse":true,"nice":false,"zero":false},"axis":null}}},
{"data":{"values":[{}]},"mark":{"type":"rule","color":"#111111"},"encoding":{"x":{"datum":1,"type":"quantitative","scale":{"type":"log","domain":[0.01,100],"nice":false},"axis":{"title":null,"values":[0.02,0.1,1,10,50],"labelExpr":"'' + datum.value","labelFlush":false,"domainColor":"#222222","tickColor":"#222222","labelColor":"#231f20","labelFont":"Liberation Sans","labelFontSize":11.5,"tickSize":5,"labelPadding":2}},"y":{"datum":0,"type":"quantitative","axis":null},"y2":{"datum":12.051}}},
{"data":{"name":"rows"},"transform":[{"filter":"datum.p=='C' && datum.kind=='study' && isValid(datum.or)"}],"mark":{"type":"rule","color":"#333333"},"encoding":{"x":{"field":"lo","type":"quantitative","title":null},"x2":{"field":"hi"},"y":{"field":"r","type":"quantitative","axis":null}}},
{"data":{"name":"rows"},"transform":[{"filter":"datum.p=='C' && datum.kind=='study' && isValid(datum.or)"}],"mark":{"type":"square","filled":true,"color":"#2e3b9b","opacity":1},"encoding":{"x":{"field":"or","type":"quantitative","title":null},"y":{"field":"r","type":"quantitative","axis":null},"size":{"field":"w","type":"quantitative","scale":{"domain":[0,100],"range":[0,185]},"legend":null}}},
{"data":{"name":"rows"},"transform":[{"filter":"datum.p=='C' && datum.kind=='total'"},{"fold":["lo","or","hi"],"as":["k","v"]}],"mark":{"type":"trail","color":"#000000"},"encoding":{"x":{"field":"v","type":"quantitative","title":null},"y":{"field":"r","type":"quantitative","axis":null},"size":{"field":"k","type":"nominal","scale":{"type":"ordinal","domain":["lo","or","hi"],"range":[0,13,0]},"legend":null},"order":{"field":"v","type":"quantitative"}}},
{"data":{"name":"hdr"},"transform":[{"filter":"datum.c=='plot'"}],"mark":{"type":"text","fontWeight":"bold","dy":4},"encoding":{"x":{"datum":0.338,"type":"quantitative"},"y":{"field":"r","type":"quantitative","axis":null},"text":{"field":"h"}}},
{"data":{"values":[{"t":"MIE"}]},"mark":{"type":"text","fontWeight":"bold","align":"center"},"encoding":{"x":{"datum":0.0875,"type":"quantitative"},"y":{"datum":13.95,"type":"quantitative"},"text":{"field":"t"}}},
{"data":{"values":[{"t":"OE"}]},"mark":{"type":"text","fontWeight":"bold","align":"center"},"encoding":{"x":{"datum":9.23,"type":"quantitative"},"y":{"datum":13.95,"type":"quantitative"},"text":{"field":"t"}}}
]}
]}
]
}
